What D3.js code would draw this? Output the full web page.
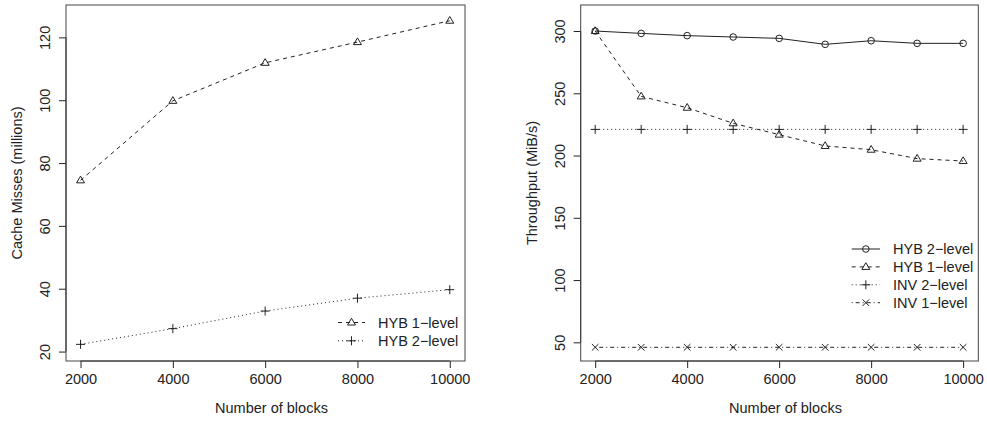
<!DOCTYPE html>
<html><head><meta charset="utf-8">
<script src="https://cdn.jsdelivr.net/npm/d3@7"></script>
<style>
body{margin:0;background:#fff;}
text{font-family:"Liberation Sans",Arial,Helvetica,sans-serif;fill:#222;}
</style></head>
<body>
<svg id="chart" width="987" height="422"></svg>
<script>
// ---- data ----
const blocksLeft = [2000, 4000, 6000, 8000, 10000];
const missesHyb1 = [74.5, 99.8, 111.9, 118.5, 125.3];
const missesHyb2 = [22.3, 27.3, 32.9, 37.0, 39.7];

const blocksRight = [2000, 3000, 4000, 5000, 6000, 7000, 8000, 9000, 10000];
const thrHyb2 = [300, 298.1, 296.3, 295.2, 294.1, 289.3, 292.2, 290.1, 290.1];
const thrHyb1 = [300, 247.5, 238.4, 225.9, 216.8, 207.7, 204.7, 197.5, 195.6];
const thrInv2 = [221, 221, 221, 221, 221, 221, 221, 221, 221];
const thrInv1 = [46, 46, 46, 46, 46, 46, 46, 46, 46];

const xTicks = [2000, 4000, 6000, 8000, 10000];
const yTicksLeft = [20, 40, 60, 80, 100, 120];
const yTicksRight = [50, 100, 150, 200, 250, 300];

const svg = d3.select("#chart");
const INK = "#222";

const dashes = {solid: null, dashed: "4,4", dotted: "1,3", dotdash: "1,3,4,3"};

function symbol(g, type, x, y) {
  if (type === "circle") {
    g.append("circle").attr("cx", x).attr("cy", y).attr("r", 3.3)
      .attr("fill", "none").attr("stroke", INK).attr("stroke-width", 1);
  } else if (type === "triangle") {
    const s = 4.2;
    g.append("path").attr("d", `M${x},${y - s}L${x + s * 0.95},${y + s * 0.6}L${x - s * 0.95},${y + s * 0.6}Z`)
      .attr("fill", "none").attr("stroke", INK).attr("stroke-width", 1);
  } else if (type === "plus") {
    const s = 4.5;
    g.append("path").attr("d", `M${x - s},${y}H${x + s}M${x},${y - s}V${y + s}`)
      .attr("stroke", INK).attr("stroke-width", 1);
  } else if (type === "cross") {
    const s = 3.3;
    g.append("path").attr("d", `M${x - s},${y - s}L${x + s},${y + s}M${x - s},${y + s}L${x + s},${y - s}`)
      .attr("stroke", INK).attr("stroke-width", 1);
  }
}

function panel(opt) {
  const {x0, x1, y0, y1, xDomain, yDomain, xs, series, yTicks, yTitle, legend} = opt;
  const x = d3.scaleLinear().domain(xDomain).range([x0, x1]);
  const y = d3.scaleLinear().domain(yDomain).range([y1, y0]);
  const g = svg.append("g");

  // x axis
  const gx = g.append("g").attr("transform", `translate(0,${y1})`)
    .call(d3.axisBottom(x).tickValues(xTicks).tickFormat(d3.format("d")).tickSize(7).tickPadding(6).tickSizeOuter(0));
  gx.select(".domain").remove();
  gx.selectAll("line").attr("stroke", INK);
  gx.selectAll("text").attr("font-size", 14.5).attr("fill", INK)
    .style("font-family", '"Liberation Sans",Arial,sans-serif');

  // y axis
  const gy = g.append("g").attr("transform", `translate(${x0},0)`)
    .call(d3.axisLeft(y).tickValues(yTicks).tickSize(7).tickSizeOuter(0));
  gy.select(".domain").remove();
  gy.selectAll("line").attr("stroke", INK);
  gy.selectAll("text").attr("font-size", 14.5).attr("fill", INK)
    .attr("transform", "rotate(-90)").attr("x", 0).attr("y", -16).attr("dy", 0)
    .attr("text-anchor", "middle")
    .style("font-family", '"Liberation Sans",Arial,sans-serif');

  // axis lines from first to last tick
  g.append("line").attr("x1", x(xTicks[0])).attr("x2", x(xTicks[xTicks.length - 1]))
    .attr("y1", y1).attr("y2", y1).attr("stroke", INK);
  g.append("line").attr("y1", y(yTicks[0])).attr("y2", y(yTicks[yTicks.length - 1]))
    .attr("x1", x0).attr("x2", x0).attr("stroke", INK);

  // box
  g.append("rect").attr("x", x0).attr("y", y0).attr("width", x1 - x0).attr("height", y1 - y0)
    .attr("fill", "none").attr("stroke", "#444").attr("stroke-width", 1);

  // titles
  g.append("text").attr("x", (x0 + x1) / 2 + 6).attr("y", 413).attr("text-anchor", "middle")
    .attr("font-size", 14.5).text("Number of blocks");
  g.append("text").attr("transform", `translate(${x0 - 44},${(y0 + y1) / 2}) rotate(-90)`)
    .attr("text-anchor", "middle").attr("font-size", 14.5).text(yTitle);

  // series
  series.forEach(s => {
    const line = d3.line().x((d, i) => x(xs[i])).y(d => y(d));
    g.append("path").datum(s.values).attr("d", line).attr("fill", "none")
      .attr("stroke", INK).attr("stroke-width", 1)
      .attr("stroke-dasharray", dashes[s.lty]);
    s.values.forEach((v, i) => symbol(g, s.pch, x(xs[i]), y(v)));
  });

  // legend
  const lg = g.append("g");
  legend.items.forEach((s, i) => {
    const ly = legend.y + i * legend.dy;
    lg.append("line").attr("x1", legend.lx1).attr("x2", legend.lx2).attr("y1", ly).attr("y2", ly)
      .attr("stroke", INK).attr("stroke-dasharray", dashes[s.lty]);
    symbol(lg, s.pch, (legend.lx1 + legend.lx2) / 2, ly);
    lg.append("text").attr("x", legend.tx).attr("y", ly).attr("dy", "0.36em")
      .attr("font-size", 14.5).text(s.name);
  });
}

const leftSeries = [
  {name: "HYB 1\u2212level", values: missesHyb1, lty: "dashed", pch: "triangle"},
  {name: "HYB 2\u2212level", values: missesHyb2, lty: "dotted", pch: "plus"}
];
panel({
  x0: 66, x1: 465, y0: 5, y1: 361,
  xDomain: [1685, 10330], yDomain: [17.0, 130.3],
  xs: blocksLeft, series: leftSeries, yTicks: yTicksLeft,
  yTitle: "Cache Misses (millions)",
  legend: {items: leftSeries, y: 322.5, dy: 18.3, lx1: 338, lx2: 365, tx: 378}
});

const rightSeries = [
  {name: "HYB 2\u2212level", values: thrHyb2, lty: "solid", pch: "circle"},
  {name: "HYB 1\u2212level", values: thrHyb1, lty: "dashed", pch: "triangle"},
  {name: "INV 2\u2212level", values: thrInv2, lty: "dotted", pch: "plus"},
  {name: "INV 1\u2212level", values: thrInv1, lty: "dotdash", pch: "cross"}
];
panel({
  x0: 580.7, x1: 978.3, y0: 5, y1: 361,
  xDomain: [1685, 10330], yDomain: [35, 320.9],
  xs: blocksRight, series: rightSeries, yTicks: yTicksRight,
  yTitle: "Throughput (MiB/s)",
  legend: {items: rightSeries, y: 249, dy: 17.9, lx1: 851.7, lx2: 880, tx: 893}
});
</script>
</body></html>
